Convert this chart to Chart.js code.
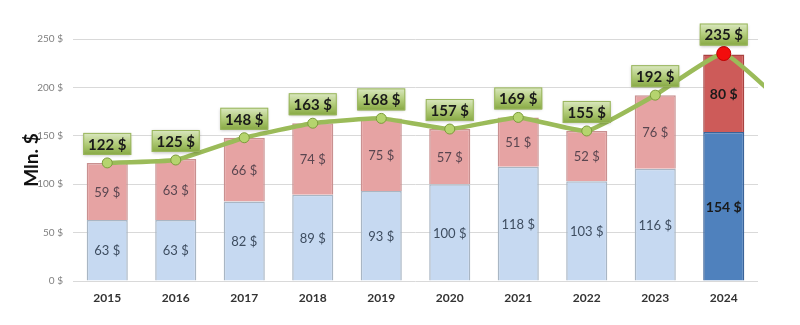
<!DOCTYPE html>
<html>
<head>
<meta charset="utf-8">
<script src="https://cdn.jsdelivr.net/npm/chart.js@4.4.1/dist/chart.umd.min.js"></script>
<style>
html,body{margin:0;padding:0;background:#fff;}
#wrap{width:800px;height:325px;}
</style>
</head>
<body>
<div id="wrap"><canvas id="c" width="800" height="325"></canvas></div>
<script>
const categories = ['2015','2016','2017','2018','2019','2020','2021','2022','2023','2024','2025'];
const baseValues = [63, 63, 82, 89, 93, 100, 118, 103, 116, 154];
const addValues  = [59, 63, 66, 74, 75, 57, 51, 52, 76, 80];
// totals line; last point lies beyond the visible range (line runs off the right edge)
const totalValues = [122, 125, 148, 163, 168, 157, 169, 155, 192, 235, 175];
const yTicks = [0, 50, 100, 150, 200, 250];

const FONT = 'Lato, "Open Sans", "DejaVu Sans", sans-serif';
const LAST = 9;

const baseColors = baseValues.map((v,i)=> i===LAST ? '#4f81bd' : '#c6d9f1');
const baseBorders = baseValues.map((v,i)=> i===LAST ? '#3a6399' : '#a9b6c4');
const addColors = addValues.map((v,i)=> i===LAST ? '#cd5b59' : '#e6a3a3');
const addBorders = addValues.map((v,i)=> i===LAST ? '#a84240' : '#c99090');

const labelPlugin = {
  id: 'labels',
  afterDatasetsDraw(chart) {
    const ctx = chart.ctx;
    ctx.save();
    [0,1].forEach(di => {
      const meta = chart.getDatasetMeta(di);
      const vals = chart.data.datasets[di].data;
      meta.data.forEach((el, i) => {
        const cy = (el.y + el.base) / 2;
        const last = i === LAST;
        ctx.font = (last ? 'bold 14px ' : '13px ') + FONT;
        ctx.fillStyle = last ? '#1a1a1a' : (di === 0 ? '#3e4d60' : '#5a4650');
        ctx.textAlign = 'center';
        ctx.textBaseline = 'middle';
        ctx.fillText(vals[i] + ' $', el.x, cy + 1);
      });
    });
    const lm = chart.getDatasetMeta(2);
    lm.data.forEach((pt, i) => {
      if (i > LAST) return;
      const w = 48, h = 22;
      const bx = pt.x - w/2, by = pt.y - 8 - h;
      const g = ctx.createLinearGradient(0, by, 0, by + h);
      g.addColorStop(0, '#dbe8c2');
      g.addColorStop(0.5, '#b2cc7a');
      g.addColorStop(1, '#86a842');
      ctx.shadowColor = 'rgba(0,0,0,0.25)';
      ctx.shadowBlur = 3;
      ctx.shadowOffsetY = 1;
      ctx.fillStyle = g;
      ctx.fillRect(bx, by, w, h);
      ctx.shadowColor = 'transparent';
      ctx.strokeStyle = '#9ab65e';
      ctx.lineWidth = 1;
      ctx.strokeRect(bx + 0.5, by + 0.5, w - 1, h - 1);
      ctx.font = 'bold 15px ' + FONT;
      ctx.fillStyle = '#1a1a1a';
      ctx.textAlign = 'center';
      ctx.textBaseline = 'middle';
      ctx.fillText(totalValues[i] + ' $', pt.x, by + h/2 + 1);
    });
    ctx.restore();
  }
};

new Chart(document.getElementById('c'), {
  data: {
    labels: categories,
    datasets: [
      { type: 'bar', label: 'base', data: baseValues, backgroundColor: baseColors,
        borderColor: baseBorders, borderWidth: 1.5, stack: 'bars',
        barPercentage: 0.6, categoryPercentage: 1.0, order: 2 },
      { type: 'bar', label: 'add', data: addValues, backgroundColor: addColors,
        borderColor: addBorders, borderWidth: 1.5, stack: 'bars',
        barPercentage: 0.6, categoryPercentage: 1.0, order: 2 },
      { type: 'line', label: 'total', data: totalValues, stack: 'total',
        borderColor: '#9bbb59', borderWidth: 4.5, tension: 0.12,
        pointRadius: totalValues.map((v,i)=> i===LAST ? 7 : (i>LAST ? 0 : 5)),
        pointBackgroundColor: totalValues.map((v,i)=> i===LAST ? '#f20d0d' : '#b5d46e'),
        pointBorderColor: totalValues.map((v,i)=> i===LAST ? '#c00000' : '#7c9c3c'),
        pointBorderWidth: 1, order: 1 }
    ]
  },
  options: {
    responsive: false,
    animation: false,
    layout: { padding: { left: 0, right: 42, top: 39, bottom: 0 } },
    plugins: { legend: { display: false }, tooltip: { enabled: false } },
    scales: {
      x: {
        stacked: true,
        afterDataLimits(s) { s.max = LAST; },
        grid: { display: false, drawTicks: false },
        border: { display: false },
        ticks: { padding: 10, color: '#333333', font: { family: FONT, size: 12, weight: 'bold' } },
        afterFit(s) { s.height = 44; }
      },
      y: {
        stacked: true,
        min: 0, max: 250,
        afterBuildTicks(s) { s.ticks = yTicks.map(v => ({ value: v })); },
        grid: { color: '#d9d9d9', lineWidth: 1, drawTicks: false },
        border: { display: false },
        ticks: { padding: 10, color: '#808080', font: { family: FONT, size: 10 },
                 callback: v => v + ' $' },
        title: { display: true, text: 'Mln. $', color: '#111111',
                 font: { family: FONT, size: 19, weight: 'bold' },
                 padding: { top: 20, bottom: 0 } },
        afterFit(s) { s.width = 73; }
      }
    }
  },
  plugins: [labelPlugin]
});
</script>
</body>
</html>
